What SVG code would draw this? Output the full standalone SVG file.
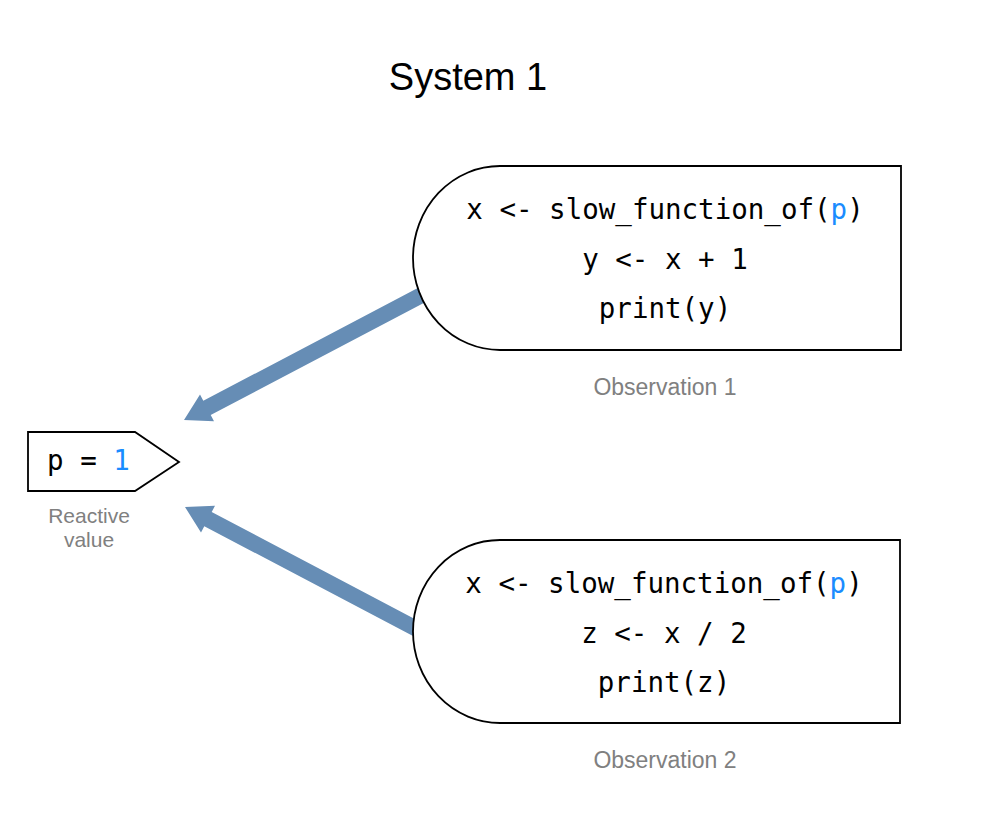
<svg xmlns="http://www.w3.org/2000/svg" width="1002" height="840" viewBox="0 0 1002 840">
<style>
.box{fill:#fff;stroke:#000;stroke-width:1.8}
.code{font-family:"DejaVu Sans Mono","Liberation Mono",monospace;font-size:27.5px;fill:#000;text-anchor:middle}
.hl{fill:#1a8cff}
.cap{font-family:"Liberation Sans",Arial,sans-serif;font-size:23px;fill:#808080;text-anchor:middle}
.small{font-size:21px}
.title{font-family:"Liberation Sans",Arial,sans-serif;font-size:38px;fill:#000;text-anchor:middle}
.arrow{fill:#668db5}
</style>
<rect width="1002" height="840" fill="#fff"/>
<text class="title" x="468" y="90">System 1</text>
<g id="connectors">
<polygon class="arrow" points="426.3,283.6 203.3,400.8 200,394.6 184,420 214,421.2 210.7,415 433.7,297.8"/>
<polygon class="arrow" points="426.3,643.1 204.3,526.2 201,532.4 185,507 215,505.8 211.7,512 433.7,628.9"/>
</g>
<g id="obs1">
<path class="box" d="M500,166 H901 V350 H500 A87 92 0 0 1 500,166 Z"/>
<text class="code" x="665" y="219">x &lt;- slow_function_of(<tspan class="hl">p</tspan>)</text>
<text class="code" x="665" y="269">y &lt;- x + 1</text>
<text class="code" x="665" y="318">print(y)</text>
<text class="cap" x="665" y="395">Observation 1</text>
</g>
<g id="obs2">
<path class="box" d="M500,540 H900 V723 H500 A87 91.5 0 0 1 500,540 Z"/>
<text class="code" x="664" y="593">x &lt;- slow_function_of(<tspan class="hl">p</tspan>)</text>
<text class="code" x="664" y="643">z &lt;- x / 2</text>
<text class="code" x="664" y="692">print(z)</text>
<text class="cap" x="665" y="768">Observation 2</text>
</g>
<g id="reactive">
<polygon class="box" points="28,432 135,432 179,462 135,491 28,491"/>
<text class="code" x="88.5" y="470">p = <tspan class="hl">1</tspan></text>
<text class="cap small" x="89" y="523">Reactive</text>
<text class="cap small" x="89" y="547">value</text>
</g>
</svg>
